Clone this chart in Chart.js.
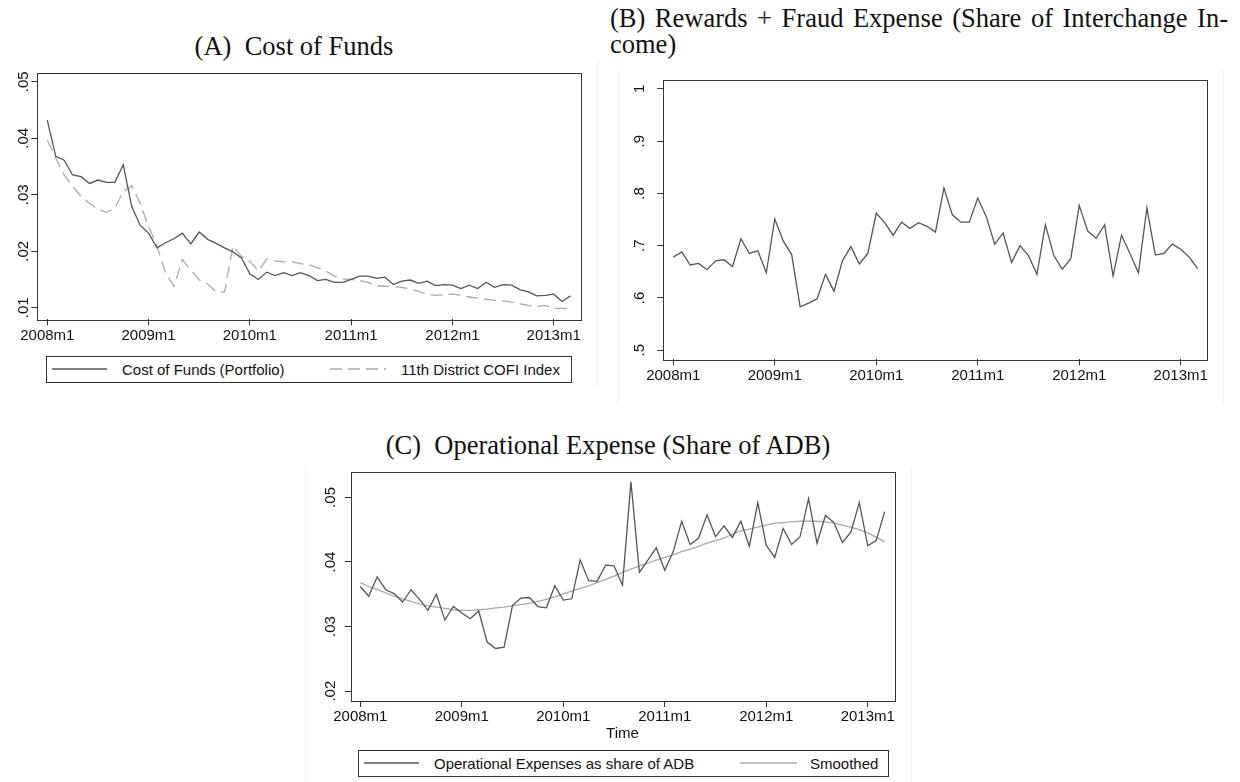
<!DOCTYPE html>
<html>
<head>
<meta charset="utf-8">
<script src="https://cdn.jsdelivr.net/npm/chart.js@4.4.0/dist/chart.umd.min.js"></script>
<style>
  body { margin:0; background:#fff; width:1240px; height:782px; position:relative; overflow:hidden;
         font-family:"Liberation Sans", Arial, sans-serif; color:#111; }
  canvas { position:absolute; }
  .cap { position:absolute; font-family:"Liberation Serif","Times New Roman",serif; font-size:26.5px;
         line-height:28px; white-space:nowrap; color:#111; }
  .legend { position:absolute; border:1px solid #333; box-sizing:border-box; }
  .lt { position:absolute; font-size:15px; line-height:15px; white-space:nowrap; }
  .key { position:absolute; }
  .edge { position:absolute; width:1px; background:#edf1f2; }
</style>
</head>
<body>

<div class="edge" style="left:597px;top:60px;height:327px"></div>
<div class="edge" style="left:618px;top:70px;height:334px"></div>
<div class="edge" style="left:1223px;top:70px;height:334px"></div>
<div class="edge" style="left:305px;top:467px;height:315px"></div>
<div class="edge" style="left:911px;top:467px;height:315px"></div>

<div class="cap" style="left:0;width:588px;top:32px;text-align:center">(A)&nbsp; Cost of Funds</div>
<div class="cap" style="left:610px;width:618px;top:4px;text-align:justify;text-align-last:justify">(B) Rewards + Fraud Expense (Share of Interchange In-</div>
<div class="cap" style="left:610px;top:30px">come)</div>
<div class="cap" style="left:305px;width:606px;top:431px;text-align:center">(C)&nbsp; Operational Expense (Share of ADB)</div>

<canvas id="chartA" width="600" height="290" style="left:0;top:60px"></canvas>
<canvas id="chartB" width="640" height="350" style="left:600px;top:60px"></canvas>
<canvas id="chartC" width="620" height="290" style="left:300px;top:460px"></canvas>

<div class="legend" style="left:46px;top:356px;width:526px;height:27px"></div>
<svg class="key" style="left:52px;top:367px" width="55" height="4"><line x1="0" y1="2" x2="55" y2="2" stroke="#555" stroke-width="1.3"/></svg>
<div class="lt" style="left:122px;top:362px">Cost of Funds (Portfolio)</div>
<svg class="key" style="left:330px;top:367px" width="56" height="4"><line x1="0" y1="2" x2="56" y2="2" stroke="#aaa" stroke-width="1.3" stroke-dasharray="12 6"/></svg>
<div class="lt" style="left:401px;top:362px">11th District COFI Index</div>

<div class="legend" style="left:358px;top:750px;width:531px;height:27px"></div>
<svg class="key" style="left:364px;top:761px" width="55" height="4"><line x1="0" y1="2" x2="55" y2="2" stroke="#555" stroke-width="1.3"/></svg>
<div class="lt" style="left:434px;top:756px">Operational Expenses as share of ADB</div>
<svg class="key" style="left:740px;top:761px" width="57" height="4"><line x1="0" y1="2" x2="57" y2="2" stroke="#aaa" stroke-width="1.3"/></svg>
<div class="lt" style="left:810px;top:756px">Smoothed</div>

<script>
// months 2008m1 .. 2013m3, x = month index
const monthLabels = [];
for (let y = 2008; y <= 2013; y++) {
  for (let m = 1; m <= 12; m++) {
    if (y === 2013 && m > 3) break;
    monthLabels.push(y + 'm' + m);
  }
}

const xTickPos = [0, 12, 24, 36, 48, 60];
const xTickLabels = ['2008m1', '2009m1', '2010m1', '2011m1', '2012m1', '2013m1'];

// (A) cost of funds
const costOfFunds = [0.0432,0.0368,0.0361,0.0335,0.0332,0.0320,0.0326,0.0322,0.0322,0.0353,
  0.0279,0.0246,0.0232,0.0206,0.0215,0.0222,0.0232,0.0213,0.0234,0.0221,
  0.0214,0.0206,0.0199,0.0188,0.0160,0.0150,0.0163,0.0157,0.0162,0.0157,
  0.0162,0.0157,0.0148,0.0150,0.0145,0.0145,0.0150,0.0156,0.0156,0.0152,
  0.0154,0.0141,0.0147,0.0149,0.0143,0.0147,0.0139,0.0141,0.0140,0.0134,
  0.0140,0.0134,0.0145,0.0136,0.0141,0.0140,0.0132,0.0128,0.0121,0.0122,
  0.0124,0.0111,0.0121];
const cofiIndex = [0.0397,0.0365,0.0335,0.0315,0.0297,0.0285,0.0274,0.0269,0.0276,0.0306,
  0.0316,0.0285,0.0244,0.0209,0.0162,0.0138,0.0185,0.0167,0.0149,0.0142,
  0.0128,0.0128,0.0209,0.0191,0.0182,0.0165,0.0186,0.0183,0.0181,0.0181,
  0.0178,0.0176,0.0171,0.0165,0.0156,0.0151,0.0150,0.0148,0.0145,0.0139,
  0.0138,0.0137,0.0136,0.0133,0.0129,0.0124,0.0122,0.0123,0.0124,0.0122,
  0.0119,0.0117,0.0115,0.0113,0.0112,0.0110,0.0107,0.0104,0.0102,0.0104,
  0.0099,0.0099,0.0098];
const aTicks = [0.01, 0.02, 0.03, 0.04, 0.05];
const aTickLabels = ['.01', '.02', '.03', '.04', '.05'];

// (B) rewards + fraud
const rewardsFraud = [0.678,0.688,0.663,0.666,0.654,0.671,0.673,0.660,0.713,0.685,
  0.690,0.648,0.751,0.709,0.683,0.583,0.590,0.598,0.645,0.613,
  0.671,0.698,0.665,0.685,0.762,0.744,0.720,0.745,0.733,0.744,
  0.737,0.726,0.810,0.759,0.745,0.745,0.791,0.756,0.703,0.724,
  0.668,0.700,0.681,0.645,0.740,0.681,0.655,0.675,0.777,0.728,
  0.714,0.740,0.642,0.720,0.685,0.648,0.772,0.682,0.685,0.703,
  0.693,0.678,0.656];
const bTicks = [0.5, 0.6, 0.7, 0.8, 0.9, 1];
const bTickLabels = ['.5', '.6', '.7', '.8', '.9', '1'];

// (C) operational expense
const opExpense = [0.0362,0.0347,0.0377,0.0357,0.0351,0.0338,0.0357,0.0342,0.0325,0.0350,
  0.0310,0.0331,0.0321,0.0312,0.0324,0.0276,0.0266,0.0268,0.0333,0.0344,
  0.0345,0.0331,0.0329,0.0363,0.0341,0.0343,0.0403,0.0371,0.0370,0.0395,
  0.0394,0.0364,0.0524,0.0384,0.0403,0.0422,0.0387,0.0416,0.0463,0.0427,
  0.0437,0.0473,0.0439,0.0456,0.0438,0.0463,0.0424,0.0492,0.0426,0.0407,
  0.0452,0.0427,0.0439,0.0498,0.0429,0.0472,0.0461,0.0430,0.0446,0.0492,
  0.0425,0.0433,0.0478];
const opSmoothed = [0.0368,0.0362,0.0357,0.0352,0.0347,0.0343,0.0339,0.0335,0.0332,0.0330,
  0.0328,0.0326,0.0325,0.0325,0.0326,0.0327,0.0329,0.0330,0.0332,0.0334,
  0.0336,0.0339,0.0342,0.0346,0.0351,0.0355,0.0359,0.0363,0.0368,0.0373,
  0.0378,0.0384,0.0389,0.0394,0.0398,0.0403,0.0407,0.0411,0.0416,0.0420,
  0.0424,0.0429,0.0433,0.0437,0.0443,0.0448,0.0451,0.0454,0.0457,0.0460,
  0.0461,0.0462,0.0463,0.0463,0.0463,0.0462,0.0460,0.0457,0.0454,0.0450,
  0.0445,0.0438,0.0431];
const cTicks = [0.02, 0.03, 0.04, 0.05];
const cTickLabels = ['.02', '.03', '.04', '.05'];

function toPoints(values) {
  return values.map(function(v, i) { return { x: i, y: v }; });
}

// plot frame around the chart area
const framePlugin = {
  id: 'frame',
  afterDraw: function(chart) {
    const a = chart.chartArea, ctx = chart.ctx;
    ctx.save();
    ctx.strokeStyle = '#333';
    ctx.lineWidth = 1;
    ctx.strokeRect(Math.round(a.left) + 0.5, Math.round(a.top) + 0.5,
                   Math.round(a.right - a.left), Math.round(a.bottom - a.top));
    ctx.restore();
  }
};

function drawPanel(id, datasets, g) {
  const tickFont = { family: '"Liberation Sans", Arial, sans-serif', size: 15 };
  const xScale = {
    type: 'linear', min: g.xMin, max: g.xMax,
    border: { display: false },
    grid: { display: true, drawOnChartArea: false, drawTicks: true, tickLength: 6, color: '#333' },
    afterBuildTicks: function(s) { s.ticks = xTickPos.map(function(v) { return { value: v }; }); },
    afterFit: function(s) { s.height = g.xHeight; },
    ticks: { autoSkip: false, maxRotation: 0, minRotation: 0, padding: g.xPad, color: '#111', font: tickFont,
             callback: function(v, i) { return xTickLabels[i]; } }
  };
  if (g.xTitle) {
    xScale.title = { display: true, text: g.xTitle, color: '#111', font: tickFont, padding: { top: 0, bottom: g.titlePad } };
  }
  new Chart(document.getElementById(id), {
    type: 'line',
    data: { datasets: datasets },
    options: {
      responsive: false, animation: false,
      layout: { padding: g.pad },
      elements: { point: { radius: 0 }, line: { tension: 0 } },
      plugins: { legend: { display: false }, tooltip: { enabled: false } },
      scales: {
        x: xScale,
        y: {
          min: g.yMin, max: g.yMax,
          border: { display: false },
          grid: { display: true, drawOnChartArea: false, drawTicks: true, tickLength: 6, color: '#333' },
          afterBuildTicks: function(s) { s.ticks = g.yTicks.map(function(v) { return { value: v }; }); },
          afterFit: function(s) { s.width = g.yWidth; },
          ticks: { autoSkip: false, minRotation: 90, maxRotation: 90, crossAlign: 'center', padding: g.yPad,
                   color: '#111', font: tickFont,
                   callback: function(v, i) { return g.yTickLabels[i]; } }
        }
      }
    },
    plugins: [framePlugin]
  });
}

drawPanel('chartA', [
  { label: 'Cost of Funds (Portfolio)', data: toPoints(costOfFunds), borderColor: '#555', borderWidth: 1.3 },
  { label: '11th District COFI Index', data: toPoints(cofiIndex), borderColor: '#aaa', borderWidth: 1.3, borderDash: [12, 6] }
], { xMin: -1.185, xMax: 63.32, yMin: 0.00795, yMax: 0.0516, yTicks: aTicks, yTickLabels: aTickLabels,
     pad: { top: 12.7, right: 18.3, left: 0, bottom: 0 }, yWidth: 37.3, xHeight: 30.7, yPad: -3.4, xPad: 2 });

drawPanel('chartB', [
  { label: 'Rewards + Fraud Expense', data: toPoints(rewardsFraud), borderColor: '#555', borderWidth: 1.3 }
], { xMin: -1.18, xMax: 63.19, yMin: 0.4825, yMax: 1.0175, yTicks: bTicks, yTickLabels: bTickLabels,
     pad: { top: 13.3, right: 32.3, left: 0, bottom: 0 }, yWidth: 63.3, xHeight: 50.7, yPad: 10.75, xPad: 1.5 });

drawPanel('chartC', [
  { label: 'Operational Expenses as share of ADB', data: toPoints(opExpense), borderColor: '#555', borderWidth: 1.3 },
  { label: 'Smoothed', data: toPoints(opSmoothed), borderColor: '#aaa', borderWidth: 1.3 }
], { xMin: -1.135, xMax: 63.14, yMin: 0.01847, yMax: 0.05393, yTicks: cTicks, yTickLabels: cTickLabels,
     pad: { top: 9.3, right: 25.7, left: 0, bottom: 0 }, yWidth: 50.7, xHeight: 49, yPad: 3, xPad: 0.75,
     xTitle: 'Time', titlePad: 7 });
</script>
</body>
</html>
